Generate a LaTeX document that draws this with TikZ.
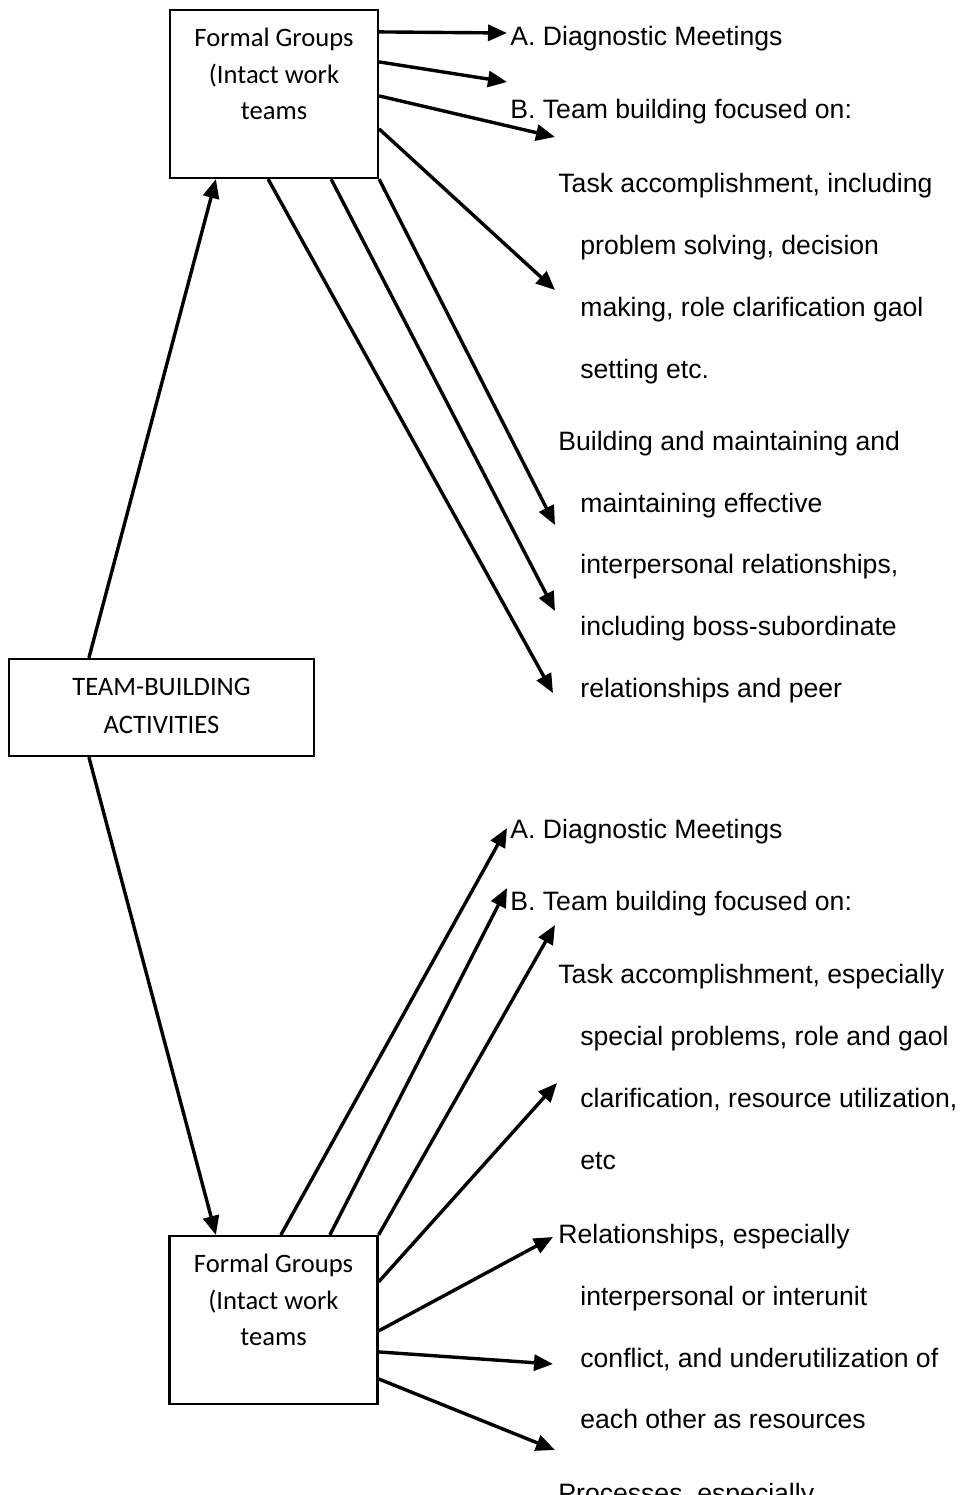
\documentclass[tikz,border=0pt]{standalone}
\usepackage{fontspec}
\setmainfont{Liberation Sans}
\newfontfamily\calib{Carlito}
\usetikzlibrary{arrows.meta}
\begin{document}
\begin{tikzpicture}[x=0.5pt,y=-0.5pt,
  box/.style={draw, line width=1.1pt, inner sep=0pt, fill=white},
  txt/.style={anchor=base west, inner sep=0pt, font=\fontsize{13.3}{16}\selectfont},
  arr/.style={line width=1.7pt, -{Triangle[length=9.5pt,width=8pt]}}]
\useasboundingbox (0,0) rectangle (963,1495);
\fill[white] (0,0) rectangle (963,1495);

% boxes
\node[box] (fg1) at (274,94) {\parbox[t][84pt][t]{104pt}{\centering\calib\fontsize{13.3}{18.25}\selectfont\vspace*{5.7pt}\strut Formal Groups\\\strut (Intact work\\\strut teams}};
\node[box] (tb) at (161.5,707.5) {\parbox[t][48.5pt][t]{152.5pt}{\centering\calib\fontsize{13.3}{19}\selectfont\vspace*{4.7pt}\strut TEAM-BUILDING\\\strut ACTIVITIES}};
\node[box] (fg2) at (273.5,1320) {\parbox[t][84pt][t]{104pt}{\centering\calib\fontsize{13.3}{18.25}\selectfont\vspace*{5.7pt}\strut Formal Groups\\\strut (Intact work\\\strut teams}};

% top texts
\node[txt] (u1) at (510,45) {A. Diagnostic Meetings};
\node[txt] (u2) at (510,118) {B. Team building focused on:};
\node[txt] (u3) at (558,192) {Task accomplishment, including};
\node[txt] (u4) at (580,254) {problem solving, decision};
\node[txt] (u5) at (580,316) {making, role clarification gaol};
\node[txt] (u6) at (580,378) {setting etc.};
\node[txt] (u7) at (558,450) {Building and maintaining and};
\node[txt] (u8) at (580,512) {maintaining effective};
\node[txt] (u9) at (580,573) {interpersonal relationships,};
\node[txt] (u10) at (580,635) {including boss-subordinate};
\node[txt] (u11) at (580,697) {relationships and peer};

% bottom texts
\node[txt] (l1) at (510,838) {A. Diagnostic Meetings};
\node[txt] (l2) at (510,910) {B. Team building focused on:};
\node[txt] (l3) at (558,983) {Task accomplishment, especially};
\node[txt] (l4) at (580,1045) {special problems, role and gaol};
\node[txt] (l5) at (580,1107) {clarification, resource utilization,};
\node[txt] (l6) at (580,1169) {etc};
\node[txt] (l7) at (558,1243) {Relationships, especially};
\node[txt] (l8) at (580,1305) {interpersonal or interunit};
\node[txt] (l9) at (580,1367) {conflict, and underutilization of};
\node[txt] (l10) at (580,1428) {each other as resources};
\node[txt] (l11) at (558,1502) {Processes, especially};

% arrow tip coordinates
\coordinate (ta1) at (507,33);
\coordinate (ta2) at (507,82);
\coordinate (ta3) at (555,137);
\coordinate (ta4) at (555,290);
\coordinate (ta5) at (555,525);
\coordinate (ta6) at (555,611);
\coordinate (ta7) at (553,693);
\coordinate (tb1) at (507,828);
\coordinate (tb2) at (507,888);
\coordinate (tb3) at (555,925);
\coordinate (tb4) at (557,1083);
\coordinate (tb5) at (553,1237);
\coordinate (tb6) at (553,1364);
\coordinate (tb7) at (555,1450);

% main connectors
\draw[arr] ([xshift=40.5pt]tb.north west) -- ([xshift=23.5pt]fg1.south west);
\draw[arr] ([xshift=40.5pt]tb.south west) -- ([xshift=23.75pt]fg2.north west);

% top fan
\draw[arr] ([yshift=-11.5pt]fg1.north east) -- (ta1);
\draw[arr] ([yshift=-26.5pt]fg1.north east) -- (ta2);
\draw[arr] ([yshift=-43.5pt]fg1.north east) -- (ta3);
\draw[arr] ([yshift=-60pt]fg1.north east) -- (ta4);
\draw[arr] (fg1.south east) -- (ta5);
\draw[arr] ([xshift=-24pt]fg1.south east) -- (ta6);
\draw[arr] ([xshift=-55.5pt]fg1.south east) -- (ta7);

% bottom fan
\draw[arr] ([xshift=56.25pt]fg2.north west) -- (tb1);
\draw[arr] ([xshift=80.75pt]fg2.north west) -- (tb2);
\draw[arr] (fg2.north east) -- (tb3);
\draw[arr] ([yshift=-23.5pt]fg2.north east) -- (tb4);
\draw[arr] ([yshift=-48pt]fg2.north east) -- (tb5);
\draw[arr] ([yshift=-58.5pt]fg2.north east) -- (tb6);
\draw[arr] ([yshift=-72pt]fg2.north east) -- (tb7);
\end{tikzpicture}
\end{document}
